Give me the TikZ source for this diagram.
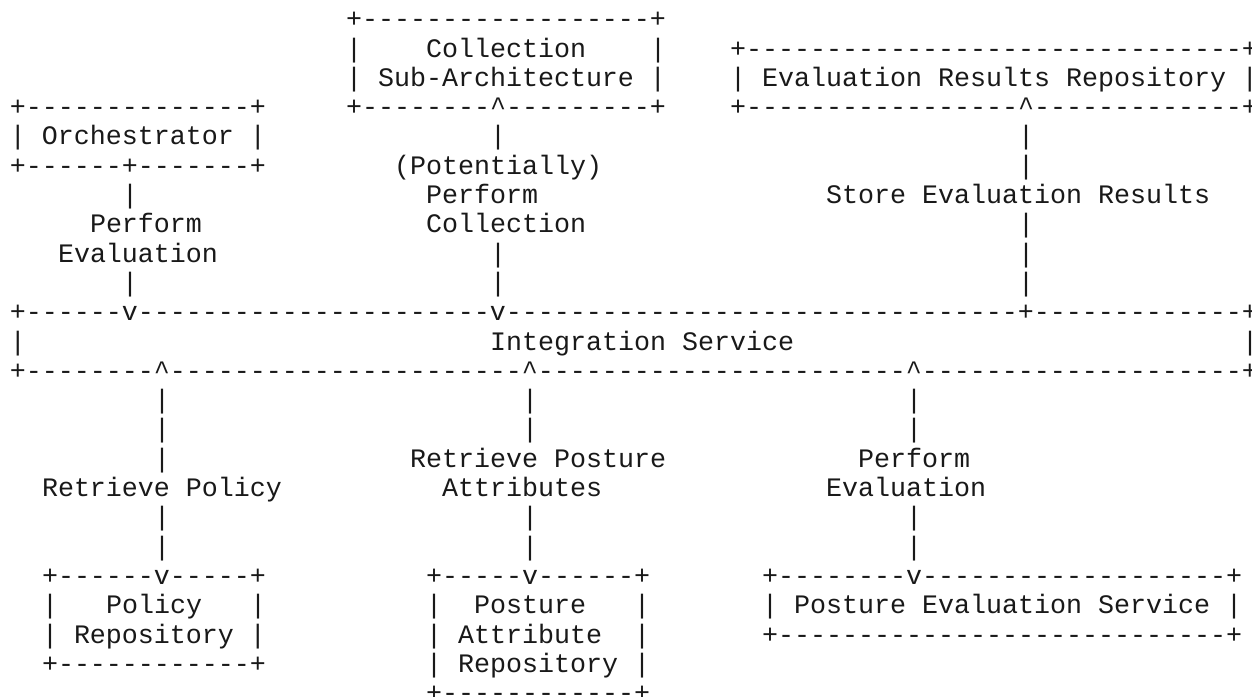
\documentclass[tikz,border=0pt]{standalone}
\usepackage{fontspec}
\setmonofont{Liberation Mono}
\newcommand\cc{\textasciicircum}
\tikzset{
  txt/.style={anchor=base west, inner sep=0pt, outer sep=0pt, text=black!90,
    font=\ttfamily\fontsize{13.333pt}{14.65pt}\selectfont}
}
% #1 name, #2 column, #3 row, #4 text
\newcommand\tx[4]{\node[txt] (#1) at ({(5+8*#2)*1pt},{(0.8-14.65*#3)*1pt}) {#4};}
\begin{document}
\begin{tikzpicture}
\fill[white] (0,0) rectangle (626pt,-348pt);
\useasboundingbox (0,0) rectangle (626pt,-348pt);
\clip (0,0) rectangle (626pt,-348pt);
% Collection Sub-Architecture
\tx{col1}{21}{1}{+------------------+}
\tx{col2a}{21}{2}{|}
\tx{col2}{26}{2}{Collection}
\tx{col2b}{40}{2}{|}
\tx{col3}{21}{3}{| Sub-Architecture |}
\tx{col4}{21}{4}{+--------\cc---------+}
% Evaluation Results Repository
\tx{err1}{45}{2}{+-------------------------------+}
\tx{err2}{45}{3}{| Evaluation Results Repository |}
\tx{err3}{45}{4}{+-----------------\cc-------------+}
% Orchestrator
\tx{orc1}{0}{4}{+--------------+}
\tx{orc2}{0}{5}{| Orchestrator |}
\tx{orc3}{0}{6}{+------+-------+}
% connector Orchestrator -> Integration
\tx{l7}{7}{7}{|}
\tx{l8}{5}{8}{Perform}
\tx{l9}{3}{9}{Evaluation}
\tx{l10}{7}{10}{|}
% connector Integration -> Collection
\tx{m5}{30}{5}{|}
\tx{m6}{24}{6}{(Potentially)}
\tx{m7}{26}{7}{Perform}
\tx{m8}{26}{8}{Collection}
\tx{m9}{30}{9}{|}
\tx{m10}{30}{10}{|}
% connector Integration -> Evaluation Results Repository
\tx{r5}{63}{5}{|}
\tx{r6}{63}{6}{|}
\tx{r7}{51}{7}{Store Evaluation Results}
\tx{r8}{63}{8}{|}
\tx{r9}{63}{9}{|}
\tx{r10}{63}{10}{|}
% Integration Service
\tx{int1}{0}{11}{+------v----------------------v--------------------------------+-------------+}
\tx{int2a}{0}{12}{|}
\tx{int2}{30}{12}{Integration Service}
\tx{int2b}{77}{12}{|}
\tx{int3}{0}{13}{+--------\cc----------------------\cc-----------------------\cc--------------------+}
% lower connectors
\tx{a14}{9}{14}{|}\tx{b14}{32}{14}{|}\tx{c14}{56}{14}{|}
\tx{a15}{9}{15}{|}\tx{b15}{32}{15}{|}\tx{c15}{56}{15}{|}
\tx{a16}{9}{16}{|}
\tx{b16}{25}{16}{Retrieve Posture}
\tx{c16}{53}{16}{Perform}
\tx{a17}{2}{17}{Retrieve Policy}
\tx{b17}{27}{17}{Attributes}
\tx{c17}{51}{17}{Evaluation}
\tx{a18}{9}{18}{|}\tx{b18}{32}{18}{|}\tx{c18}{56}{18}{|}
\tx{a19}{9}{19}{|}\tx{b19}{32}{19}{|}\tx{c19}{56}{19}{|}
% Policy Repository
\tx{pr1}{2}{20}{+------v-----+}
\tx{pr2a}{2}{21}{|}
\tx{pr2}{6}{21}{Policy}
\tx{pr2b}{15}{21}{|}
\tx{pr3}{2}{22}{| Repository |}
\tx{pr4}{2}{23}{+------------+}
% Posture Attribute Repository
\tx{pa1}{26}{20}{+-----v------+}
\tx{pa2a}{26}{21}{|}
\tx{pa2}{29}{21}{Posture}
\tx{pa2b}{39}{21}{|}
\tx{pa3a}{26}{22}{|}
\tx{pa3}{28}{22}{Attribute}
\tx{pa3b}{39}{22}{|}
\tx{pa4}{26}{23}{| Repository |}
\tx{pa5}{26}{24}{+------------+}
% Posture Evaluation Service
\tx{pe1}{47}{20}{+--------v-------------------+}
\tx{pe2}{47}{21}{| Posture Evaluation Service |}
\tx{pe3}{47}{22}{+----------------------------+}
\end{tikzpicture}
\end{document}
